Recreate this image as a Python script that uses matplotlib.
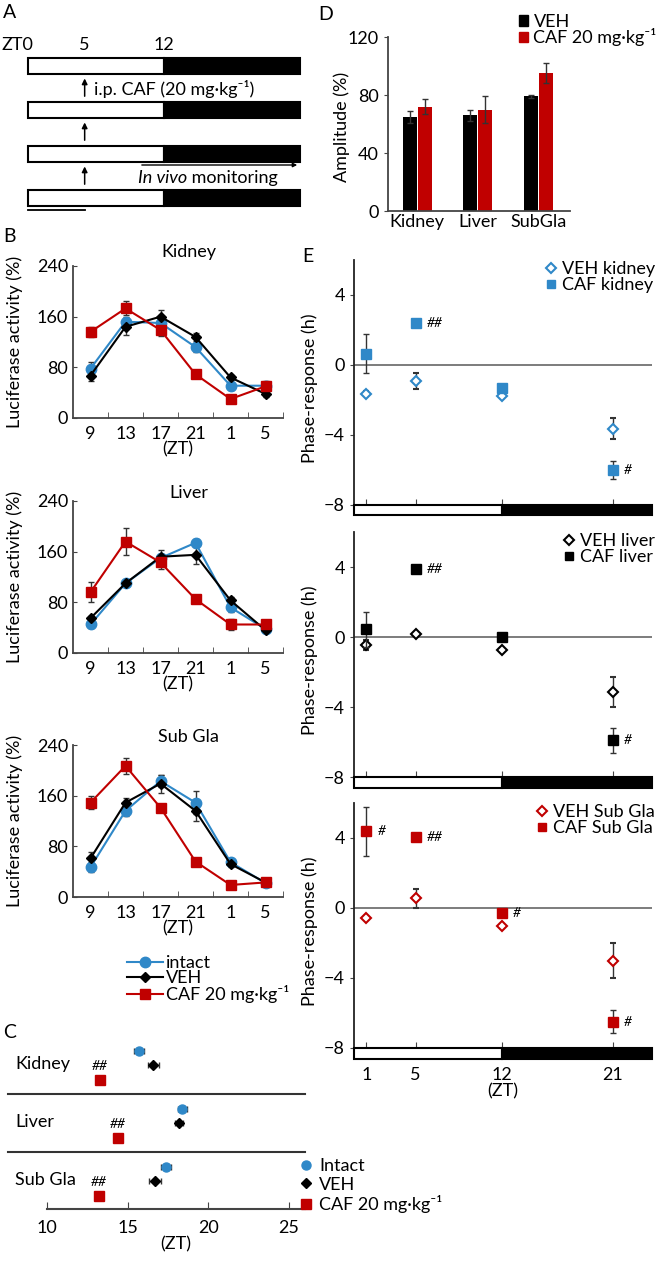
import matplotlib
matplotlib.use('Agg')
import matplotlib.pyplot as plt
import matplotlib.transforms as mtrans
from matplotlib.patches import Rectangle
from matplotlib.lines import Line2D
import numpy as np

plt.rcParams['font.family'] = ['Lato', 'DejaVu Sans']
plt.rcParams['font.size'] = 13

BLUE = '#2f88c8'
RED = '#c00000'
GREY = '#444444'

# ---------------- data ----------------
# A: schedule (light 0-12, dark 12-24), injection at ZT5
light_dark_zt = [0, 12, 24]
inject_zt = 5
n_days = 4

# B: luciferase activity (%)
b_zt_labels = ['9', '13', '17', '21', '1', '5']
b_tissues = ['Kidney', 'Liver', 'Sub Gla']
intact_mean = [[78, 152, 150, 112, 51, 51],
               [45, 110, 150, 174, 72, 38],
               [47, 136, 183, 149, 55, 22]]
intact_err = [[10, 8, 8, 7, 6, 8],
              [6, 4, 6, 6, 8, 4],
              [8, 8, 10, 18, 5, 3]]
veh_mean = [[67, 144, 160, 128, 64, 38],
            [55, 110, 152, 155, 83, 36],
            [61, 149, 179, 136, 52, 23]]
veh_err = [[8, 13, 11, 6, 4, 5],
           [4, 4, 10, 14, 5, 3],
           [10, 8, 14, 16, 5, 3]]
caf_mean = [[136, 173, 139, 69, 30, 50],
            [96, 176, 143, 85, 45, 45],
            [149, 207, 141, 56, 19, 23]]
caf_err = [[8, 11, 9, 4, 4, 6],
           [16, 21, 10, 4, 8, 4],
           [10, 13, 4, 4, 3, 3]]

# C: peak phase (ZT)
c_tissues = ['Kidney', 'Liver', 'Sub Gla']
c_intact = [15.7, 18.4, 17.4]
c_intact_err = [0.3, 0.3, 0.3]
c_veh = [16.6, 18.2, 16.7]
c_veh_err = [0.35, 0.25, 0.35]
c_caf = [13.3, 14.4, 13.2]
c_caf_err = [0.2, 0.2, 0.2]

# D: amplitude (%)
d_tissues = ['Kidney', 'Liver', 'SubGla']
amp_veh = [65, 66, 79]
amp_veh_err = [4, 4, 1]
amp_caf = [72, 70, 95]
amp_caf_err = [5, 9, 7]

# E: phase response (h)
e_zt = [1, 5, 12, 21]
e_names = ['kidney', 'liver', 'Sub Gla']
e_veh = [[-1.65, -0.9, -1.75, -3.65],
         [-0.45, 0.2, -0.75, -3.15],
         [-0.55, 0.55, -1.05, -3.0]]
e_veh_err = [[0.15, 0.45, 0.15, 0.6],
             [0.3, 0.1, 0.1, 0.85],
             [0.1, 0.55, 0.1, 1.0]]
e_caf = [[0.65, 2.4, -1.3, -6.0],
         [0.45, 3.9, 0.0, -5.9],
         [4.4, 4.05, -0.3, -6.5]]
e_caf_err = [[1.1, 0.1, 0.2, 0.5],
             [1.0, 0.1, 0.1, 0.7],
             [1.4, 0.1, 0.1, 0.65]]
e_marks = [['', '##', '', '#'],
           ['', '##', '', '#'],
           ['#', '##', '#', '#']]

# ---------------- figure ----------------
W, H = 670, 1262
fig = plt.figure(figsize=(W / 100, H / 100), dpi=100)


def px_axes(x0, y0, x1, y1):
    return fig.add_axes([x0 / W, 1 - y1 / H, (x1 - x0) / W, (y1 - y0) / H])


def fig_label(x, y, s, **kw):
    fig.text(x / W, 1 - y / H, s, **kw)


for s, x, y in [('A', 3, 12), ('B', 3, 237), ('C', 3, 1032), ('D', 318, 15), ('E', 302, 257)]:
    fig_label(x, y, s, fontsize=14, ha='left', va='center')

# ---- A ----
axA = px_axes(28, 44, 300, 220)
axA.set_xlim(light_dark_zt[0], light_dark_zt[-1])
axA.set_ylim(n_days - 0.5, -0.5)
axA.axis('off')
for i in range(n_days):
    axA.add_patch(Rectangle((light_dark_zt[0], i - 0.19), light_dark_zt[1] - light_dark_zt[0], 0.38,
                            fc='white', ec='black', lw=1.5, clip_on=False))
    axA.add_patch(Rectangle((light_dark_zt[1], i - 0.19), light_dark_zt[2] - light_dark_zt[1], 0.38,
                            fc='black', ec='black', lw=1.5, clip_on=False))
for i in range(n_days - 1):
    axA.annotate('', xy=(inject_zt, i + 0.22), xytext=(inject_zt, i + 0.75),
                 arrowprops=dict(arrowstyle='-|>', color='black', lw=1.1, mutation_scale=8))
axA.text(light_dark_zt[0] - 0.9, -0.47, 'ZT0', ha='center', va='center')
axA.text(inject_zt, -0.47, str(inject_zt), ha='center', va='center')
axA.text(light_dark_zt[1], -0.47, str(light_dark_zt[1]), ha='center', va='center')
axA.text(inject_zt + 0.8, 0.52, 'i.p. CAF (20 mg·kg⁻¹)', ha='left', va='center')
axA.annotate('', xy=(24, 2.25), xytext=(9.8, 2.25),
             arrowprops=dict(arrowstyle='-|>', color='black', lw=1.0, mutation_scale=6))
t1 = axA.text(9.7, 2.55, 'In vivo', style='italic', ha='left', va='center')
axA.annotate(' monitoring', xy=(1, 0.5), xycoords=t1, ha='left', va='center')
# underline below the last day, up to the injection time
axA.plot([light_dark_zt[0], inject_zt], [3.27, 3.27], color='black', lw=1.3, clip_on=False)

# ---- B ----
x = np.arange(len(b_zt_labels))
b_tops = [266, 501, 745]
title_y = [1.09, 1.05, 1.05]
for k, top in enumerate(b_tops):
    ax = px_axes(73, top, 283, top + 152)
    kw = dict(lw=1.5, capsize=2.5, elinewidth=1.0, ecolor='#333333')
    ax.errorbar(x, intact_mean[k], yerr=intact_err[k], color=BLUE, marker='o', ms=7.5, **kw)
    ax.errorbar(x, veh_mean[k], yerr=veh_err[k], color='black', marker='D', ms=5.5, **kw)
    ax.errorbar(x, caf_mean[k], yerr=caf_err[k], color=RED, marker='s', ms=7, **kw)
    ax.set_xlim(-0.5, len(x) - 0.5)
    ax.set_ylim(0, 240)
    ax.set_yticks([0, 80, 160, 240])
    ax.set_xticks(x)
    ax.set_xticklabels(b_zt_labels)
    ax.set_xticks(np.arange(len(x)) + 0.5, minor=True)
    ax.tick_params(axis='x', which='major', length=0, pad=6)
    ax.tick_params(axis='x', which='minor', direction='in', length=4, color=GREY)
    ax.tick_params(axis='y', direction='in', length=3, color=GREY)
    for s in ['top', 'right']:
        ax.spines[s].set_visible(False)
    for s in ['left', 'bottom']:
        ax.spines[s].set_color(GREY)
        ax.spines[s].set_linewidth(1.3)
    ax.set_xlabel('(ZT)', labelpad=-1)
    ax.text(0.55, title_y[k], b_tissues[k], transform=ax.transAxes, ha='center', va='center')
    fig_label(15, top + 76, 'Luciferase activity (%)', rotation=90, ha='center', va='center')

b_handles = [Line2D([], [], color=BLUE, marker='o', ms=7.5, lw=1.5),
             Line2D([], [], color='black', marker='D', ms=5.5, lw=1.5),
             Line2D([], [], color=RED, marker='s', ms=7, lw=1.5)]
fig.legend(b_handles, ['intact', 'VEH', 'CAF 20 mg·kg⁻¹'], loc='upper left',
           bbox_to_anchor=(118 / W, 1 - 946 / H), frameon=False,
           handlelength=2.0, handletextpad=0.15, labelspacing=-0.05, borderpad=0)

# ---- C ----
axC = px_axes(47, 1036.5, 305, 1209)
rows = np.arange(len(c_tissues)) * 4
kw = dict(capsize=2, elinewidth=1.0, ecolor='#333333', linestyle='none')
axC.errorbar(c_intact, rows, xerr=c_intact_err, color=BLUE, marker='o', ms=6.5, **kw)
axC.errorbar(c_veh, rows + 1, xerr=c_veh_err, color='black', marker='D', ms=5, **kw)
axC.errorbar(c_caf, rows + 2, xerr=c_caf_err, color=RED, marker='s', ms=7, **kw)
axC.set_xlim(10, 26)
axC.set_ylim(10.9, -1.0)
axC.set_xticks([10, 15, 20, 25])
axC.set_yticks([])
for s in ['top', 'right', 'left']:
    axC.spines[s].set_visible(False)
axC.spines['bottom'].set_color(GREY)
axC.spines['bottom'].set_linewidth(1.5)
axC.tick_params(axis='x', direction='in', length=5, color=GREY, pad=8)
axC.set_xlabel('(ZT)', labelpad=0)
trC = mtrans.blended_transform_factory(axC.transAxes, axC.transData)
for i, name in enumerate(c_tissues):
    axC.text(-0.124, rows[i] + 0.9, name, transform=trC, ha='left', va='center')
    axC.text(c_caf[i], rows[i] + 1.05, '##', ha='center', va='center', fontsize=10, style='italic')
for r in rows[1:] - 1:
    axC.axhline(r, xmin=-0.151, xmax=1, color='#333333', lw=1.5, clip_on=False)
c_handles = [Line2D([], [], color=BLUE, marker='o', ls='none', ms=6.5),
             Line2D([], [], color='black', marker='D', ls='none', ms=5),
             Line2D([], [], color=RED, marker='s', ls='none', ms=7)]
fig.legend(c_handles, ['Intact', 'VEH', 'CAF 20 mg·kg⁻¹'], loc='upper left',
           bbox_to_anchor=(292 / W, 1 - 1149 / H), frameon=False, handlelength=0.6,
           handletextpad=0.4, labelspacing=0.15, borderpad=0)

# ---- D ----
axD = px_axes(388, 37, 570, 211)
xd = np.arange(len(d_tissues))
axD.bar(xd - 0.125, amp_veh, 0.23, yerr=amp_veh_err, color='black', capsize=2.5,
        error_kw=dict(ecolor='#333333', elinewidth=1.0), label='VEH')
axD.bar(xd + 0.125, amp_caf, 0.23, yerr=amp_caf_err, color=RED, capsize=2.5,
        error_kw=dict(ecolor='#333333', elinewidth=1.0), label='CAF 20 mg·kg⁻¹')
axD.set_xlim(-0.48, 2.52)
axD.set_ylim(0, 120)
axD.set_yticks([0, 40, 80, 120])
axD.set_xticks(xd)
axD.set_xticklabels(d_tissues)
axD.tick_params(axis='x', length=0, pad=2)
axD.tick_params(axis='y', direction='out', length=3, color=GREY)
for s in ['top', 'right']:
    axD.spines[s].set_visible(False)
for s in ['left', 'bottom']:
    axD.spines[s].set_color(GREY)
    axD.spines[s].set_linewidth(1.3)
fig_label(342, 127, 'Amplitude (%)', rotation=90, ha='center', va='center')
d_handles = [Rectangle((0, 0), 1, 1, color='black'), Rectangle((0, 0), 1, 1, color=RED)]
fig.legend(d_handles, ['VEH', 'CAF 20 mg·kg⁻¹'], loc='upper left', bbox_to_anchor=(510 / W, 1 - 5 / H),
           frameon=False, handlelength=0.5, handleheight=0.5, handletextpad=0.3,
           labelspacing=-0.1, borderpad=0)

# ---- E ----
e_colors = [BLUE, 'black', RED]
e_tops = [260, 532, 803]
for k, top in enumerate(e_tops):
    ax = px_axes(354, top, 652, top + 255.5)
    c = e_colors[k]
    ax.axhline(0, color='#666666', lw=1.2, zorder=1)
    ax.errorbar(e_zt, e_veh[k], yerr=e_veh_err[k], ls='none', marker='D', ms=5.5, mfc='white',
                mec=c, mew=1.5, ecolor='#333333', elinewidth=1.0, capsize=2.5, zorder=3)
    ax.errorbar(e_zt, e_caf[k], yerr=e_caf_err[k], ls='none', marker='s', ms=7, color=c,
                ecolor='#333333', elinewidth=1.0, capsize=2.5, zorder=4)
    for xi, yi, m in zip(e_zt, e_caf[k], e_marks[k]):
        if m:
            ax.annotate(m, (xi, yi), xytext=(8, 0), textcoords='offset points',
                        ha='left', va='center', fontsize=10, style='italic')
    ax.set_xlim(0, 24.2)
    ax.set_ylim(-8.6, 6)
    ax.set_yticks([-8, -4, 0, 4])
    ax.set_xticks(e_zt)
    ax.add_patch(Rectangle((light_dark_zt[0], -8.6), light_dark_zt[1], 0.6, fc='white', ec='black',
                           lw=1.5, clip_on=False, zorder=5))
    ax.add_patch(Rectangle((light_dark_zt[1], -8.6), 12.2, 0.6, fc='black', ec='black',
                           lw=1.5, clip_on=False, zorder=5))
    for s in ['top', 'right']:
        ax.spines[s].set_visible(False)
    ax.spines['bottom'].set_position(('data', -8))
    ax.spines['bottom'].set_visible(False)
    ax.spines['left'].set_color('#222222')
    ax.spines['left'].set_linewidth(1.3)
    ax.tick_params(axis='y', direction='out', length=3, color=GREY)
    ax.tick_params(axis='x', direction='in', length=4, color=GREY, pad=14)
    if k < 2:
        ax.set_xticklabels([])
    else:
        ax.set_xlabel('(ZT)', labelpad=0)
    e_handles = [Line2D([], [], ls='none', marker='D', ms=5, mfc='white', mec=c, mew=1.5),
                 Line2D([], [], ls='none', marker='s', ms=6, color=c)]
    ax.legend(e_handles, ['VEH ' + e_names[k], 'CAF ' + e_names[k]], loc='upper right',
              bbox_to_anchor=(1.04, 1.03), frameon=False, handlelength=0.6,
              handletextpad=0.3, labelspacing=0.0, borderpad=0)
    fig_label(310, top + 128, 'Phase-response (h)', rotation=90, ha='center', va='center')

plt.savefig('out.png', dpi=100)
